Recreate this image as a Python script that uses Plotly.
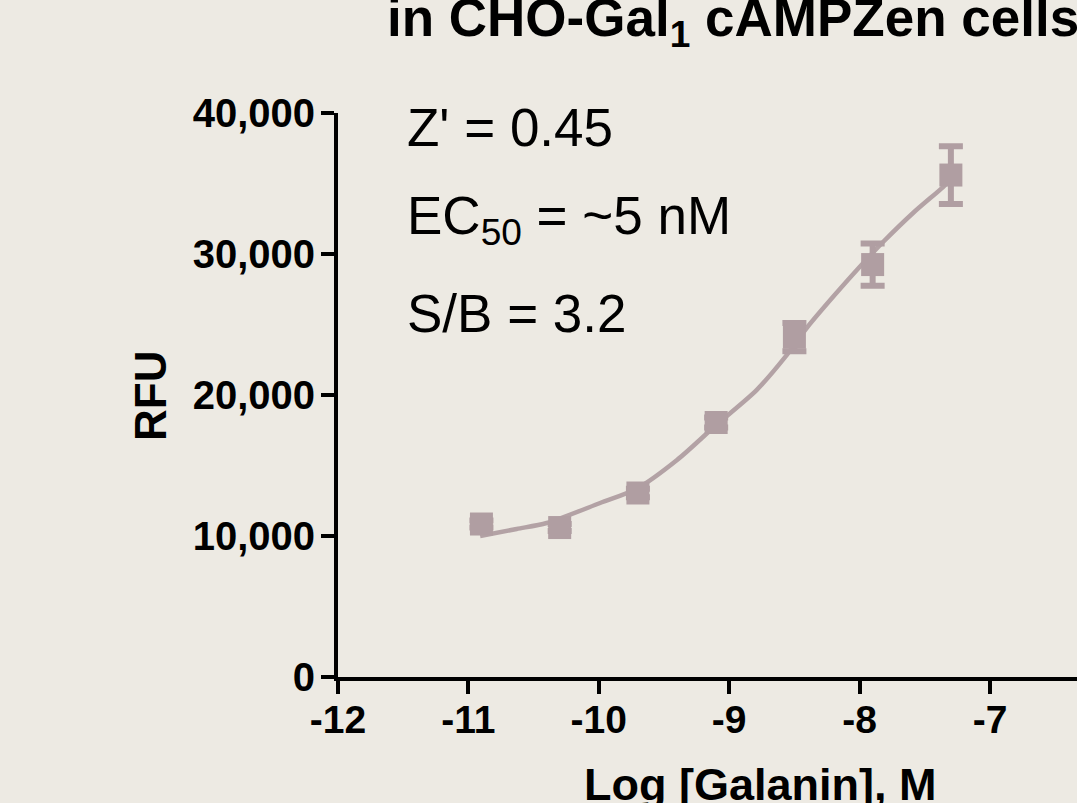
import plotly.graph_objects as go

# ---- data ----
log_conc = [-10.9, -10.3, -9.7, -9.1, -8.5, -7.9, -7.3]
rfu_mean = [10850, 10600, 13050, 18050, 24100, 29250, 35600]
rfu_err = [250, 250, 300, 350, 1000, 1500, 2050]

fit_x = [-10.91, -10.63, -10.40, -9.99, -9.71, -9.40, -9.10, -8.79, -8.57,
         -8.40, -8.20, -8.00, -7.82, -7.59, -7.36, -7.30]
fit_y = [10000, 10500, 10920, 12340, 13350, 15390, 17870, 20350, 22700,
         24820, 27000, 29080, 30850, 32910, 34750, 35300]

x_ticks = [-12, -11, -10, -9, -8, -7]
x_tick_labels = ["-12", "-11", "-10", "-9", "-8", "-7"]
y_ticks = [0, 10000, 20000, 30000, 40000]
y_tick_labels = ["0", "10,000", "20,000", "30,000", "40,000"]

title_text = "in CHO-Gal<sub>1</sub> cAMPZen cells"
x_title = "Log [Galanin], M"
y_title = "RFU"
stats_lines = ["Z' = 0.45", "EC<sub>50</sub> = ~5 nM", "S/B = 3.2"]

# ---- styling ----
BG = "#edeae3"
MARK = "#b09ea2"
CURVE = "#b3a2a5"
FONT = "Liberation Sans, Arial, sans-serif"

fig = go.Figure()
fig.add_trace(go.Scatter(
    x=fit_x, y=fit_y, mode="lines",
    line=dict(color=CURVE, width=4.5, shape="spline", smoothing=0.8),
    hoverinfo="skip", showlegend=False))
fig.add_trace(go.Scatter(
    x=log_conc, y=rfu_mean, mode="markers",
    marker=dict(symbol="square", size=23, color=MARK),
    error_y=dict(type="data", array=rfu_err, visible=True,
                 color=MARK, thickness=6, width=12),
    showlegend=False))

fig.update_layout(
    width=1077, height=803,
    margin=dict(l=338, r=0, t=113, b=126, autoexpand=False),
    paper_bgcolor=BG, plot_bgcolor=BG,
    font=dict(family=FONT, color="black"),
    showlegend=False,
)
fig.update_xaxes(
    range=[-12, -12 + 739 / 130.4],
    tickmode="array", tickvals=x_ticks, ticktext=x_tick_labels,
    showgrid=False, zeroline=False,
    showline=True, linecolor="black", linewidth=4,
    ticks="outside", ticklen=13, tickwidth=4, tickcolor="black",
    tickfont=dict(family=FONT, size=39, color="black", weight="bold"),
    ticklabelstandoff=-8,
)
fig.update_yaxes(
    range=[0, 40000],
    tickmode="array", tickvals=y_ticks, ticktext=y_tick_labels,
    showgrid=False, zeroline=False,
    showline=True, linecolor="black", linewidth=4,
    ticks="outside", ticklen=13, tickwidth=4, tickcolor="black",
    tickfont=dict(family=FONT, size=40, color="black", weight="bold"),
    ticklabelstandoff=-2,
)

W, H = 739.0, 564.0
def px_x(p):
    return (p - 338) / W
def px_y(p):
    return (677 - p) / H

# title (partly cut off like the reference)
fig.add_annotation(text="<b>" + title_text + "</b>", xref="paper", yref="paper",
                   x=px_x(385), y=px_y(21), xanchor="left", yanchor="middle",
                   showarrow=False, font=dict(family=FONT, size=53, color="black"))
# axis titles
fig.add_annotation(text="<b>" + x_title + "</b>", xref="paper", yref="paper",
                   x=px_x(760), y=px_y(784), xanchor="center", yanchor="middle",
                   showarrow=False, font=dict(family=FONT, size=45, color="black"))
fig.add_annotation(text="<b>" + y_title + "</b>", xref="paper", yref="paper",
                   x=px_x(150), y=px_y(396), xanchor="center", yanchor="middle",
                   textangle=-90, showarrow=False,
                   font=dict(family=FONT, size=44, color="black"))
# stats text
for line, cy in zip(stats_lines, [128, 219, 313]):
    fig.add_annotation(text=line, xref="paper", yref="paper",
                       x=px_x(405), y=px_y(cy), xanchor="left", yanchor="middle",
                       showarrow=False, font=dict(family=FONT, size=53, color="black"))

fig.write_html(
    "out.html",
    config={"displayModeBar": False},
    post_script="document.body.style.margin='0';document.body.style.background='%s';" % BG,
)
